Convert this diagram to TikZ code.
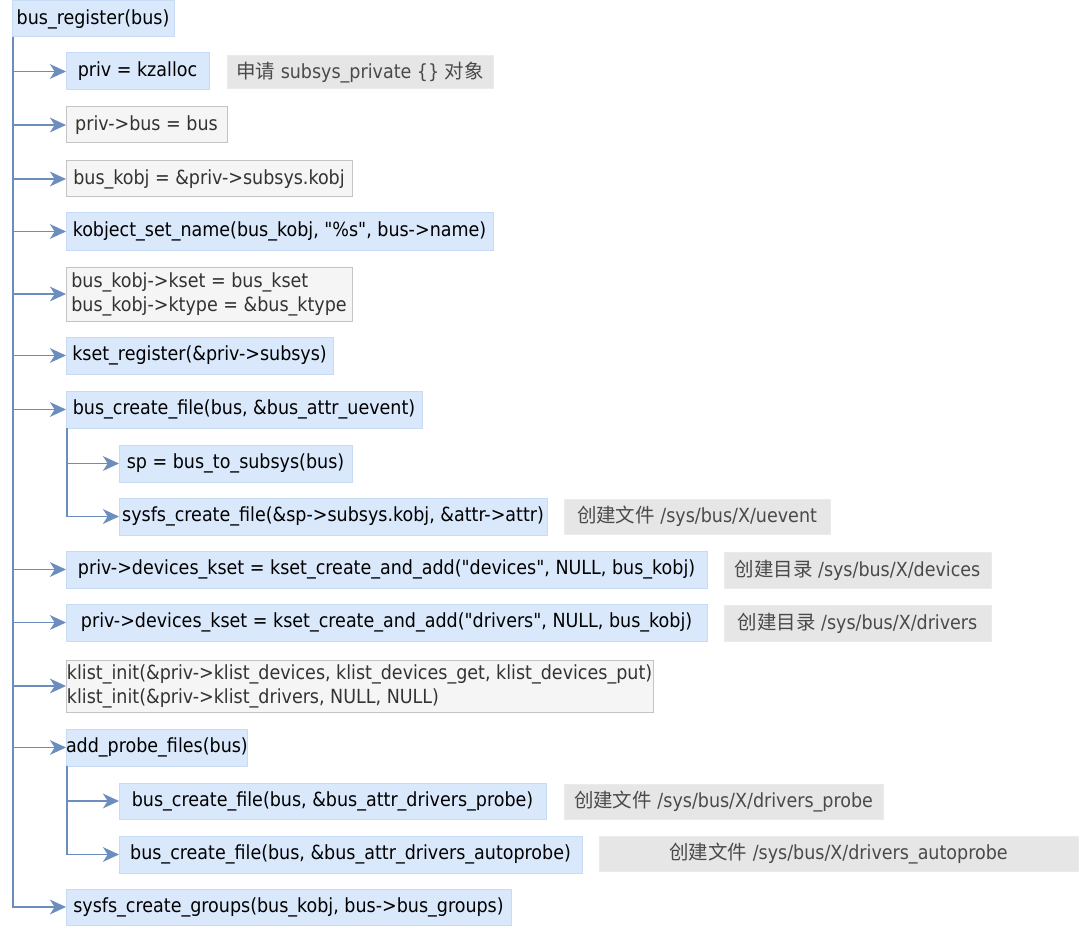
\documentclass[tikz,border=0pt]{standalone}
\usepackage{fontspec}
\setmainfont[Ligatures=TeXOff]{DejaVu Sans Condensed}
\newfontfamily\cjk{Noto Sans CJK SC}
\usetikzlibrary{arrows.meta}
\definecolor{bluefill}{HTML}{DAE8FC}
\definecolor{blueline}{HTML}{C8DBF5}
\definecolor{grayfill}{HTML}{F5F5F5}
\definecolor{grayline}{HTML}{C4C4C4}
\definecolor{graytext}{HTML}{333333}
\definecolor{notefill}{HTML}{E6E6E6}
\definecolor{noteline}{HTML}{EBEBEB}
\definecolor{notetext}{HTML}{4A4A4A}
\definecolor{connline}{HTML}{6C8EBF}
\tikzset{
  base/.style={inner sep=0pt, outer sep=0pt, line width=0.75pt, font=\fontsize{14.6pt}{18pt}\selectfont},
  bluebox/.style={base, fill=bluefill, draw=blueline, text=black},
  graybox/.style={base, fill=grayfill, draw=grayline, text=graytext},
  notebox/.style={base, fill=notefill, draw=noteline, text=notetext},
  conn/.style={draw=connline, line width=1.3pt, -{Stealth[length=12pt, width=11pt, inset=3.5pt]}}
}
\newcommand{\bx}[7]{\node[#1, anchor=north west, minimum width={(#5-#3)*0.75pt}, minimum height={(#6-#4)*0.75pt}] (#2) at (#3,#4) {#7};}
\begin{document}
\begin{tikzpicture}[x=0.75pt, y=-0.75pt]
\useasboundingbox[fill=white] (0,0) rectangle (1080,927);
% boxes
\bx{bluebox}{root}{12}{1}{174}{37}{bus\_register(bus)}
\bx{bluebox}{b1}{66}{53}{209}{90}{priv = kzalloc}
\bx{notebox}{c1}{227}{56}{493}{89}{{\cjk 申请} subsys\_private \{\} {\cjk 对象}}
\bx{graybox}{b2}{66}{107}{227}{143}{priv->bus = bus}
\bx{graybox}{b3}{66}{161}{352}{197}{bus\_kobj = \&priv->subsys.kobj}
\bx{bluebox}{b4}{66}{213}{493}{250}{kobject\_set\_name(bus\_kobj, "\%s", bus->name)}
\node[graybox, anchor=north west, align=left, minimum width={(352-66)*0.75pt}, minimum height={(321-267)*0.75pt}] (b5) at (66,267) {bus\_kobj->kset = bus\_kset\\bus\_kobj->ktype = \&bus\_ktype};
\bx{bluebox}{b6}{66}{337}{333}{374}{kset\_register(\&priv->subsys)}
\bx{bluebox}{b7}{66}{391}{422}{428}{bus\_create\_file(bus, \&bus\_attr\_uevent)}
\bx{bluebox}{s1}{119}{445}{352}{482}{sp = bus\_to\_subsys(bus)}
\bx{bluebox}{s2}{119}{498}{547}{535}{sysfs\_create\_file(\&sp->subsys.kobj, \&attr->attr)}
\bx{notebox}{c2}{564}{499}{830}{534}{{\cjk 创建文件} /sys/bus/X/uevent}
\bx{bluebox}{b8}{66}{551}{707}{588}{priv->devices\_kset = kset\_create\_and\_add("devices", NULL, bus\_kobj)}
\bx{notebox}{c3}{724}{552}{991}{588}{{\cjk 创建目录} /sys/bus/X/devices}
\bx{bluebox}{b9}{66}{604}{707}{641}{priv->devices\_kset = kset\_create\_and\_add("drivers", NULL, bus\_kobj)}
\bx{notebox}{c4}{724}{605}{991}{641}{{\cjk 创建目录} /sys/bus/X/drivers}
\node[graybox, anchor=north west, align=left, minimum width={(653-66)*0.75pt}, minimum height={(712-660)*0.75pt}] (b10) at (66,660) {klist\_init(\&priv->klist\_devices, klist\_devices\_get, klist\_devices\_put)\\klist\_init(\&priv->klist\_drivers, NULL, NULL)};
\bx{bluebox}{b11}{66}{729}{208}{766}{add\_probe\_files(bus)}
\bx{bluebox}{s3}{119}{783}{546}{819}{bus\_create\_file(bus, \&bus\_attr\_drivers\_probe)}
\bx{notebox}{c5}{564}{784}{883}{819}{{\cjk 创建文件} /sys/bus/X/drivers\_probe}
\bx{bluebox}{s4}{119}{836}{582}{873}{bus\_create\_file(bus, \&bus\_attr\_drivers\_autoprobe)}
\bx{notebox}{c6}{599}{836}{1078}{871}{{\cjk 创建文件} /sys/bus/X/drivers\_autoprobe}
\bx{bluebox}{b12}{66}{889}{511}{925}{sysfs\_create\_groups(bus\_kobj, bus->bus\_groups)}
% trunk coordinates
\coordinate (trunk) at ([xshift=0.75pt]root.south west);
\coordinate (sub1) at ([xshift=0.75pt]b7.south west);
\coordinate (sub2) at ([xshift=0.75pt]b11.south west);
% connectors
\foreach \t in {b1,b2,b3,b4,b5,b6,b7,b8,b9,b10,b11,b12}
  \draw[conn] (trunk) |- (\t.west);
\foreach \t in {s1,s2}
  \draw[conn] (sub1) |- (\t.west);
\foreach \t in {s3,s4}
  \draw[conn] (sub2) |- (\t.west);
\end{tikzpicture}
\end{document}
